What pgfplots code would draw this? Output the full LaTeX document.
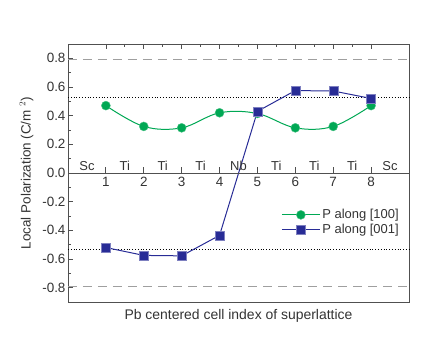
\documentclass[border=0pt]{standalone}
\usepackage{pgfplots}
\pgfplotsset{compat=1.18}
\usepackage{fontspec}
\setmainfont{Liberation Sans}
\definecolor{pgreen}{RGB}{0,168,84}
\definecolor{pblue}{RGB}{40,44,150}
\definecolor{frame}{RGB}{80,80,80}
\begin{document}
\begin{tikzpicture}
\path[use as bounding box] (-68bp,-44bp) rectangle (361bp,302bp);
\begin{axis}[
  at={(0,0)}, anchor=south west,
  scale only axis, width=341bp, height=258bp,
  xmin=0, xmax=9, ymin=-0.9, ymax=0.9,
  axis line style={frame, line width=0.8bp},
  xtick={1,...,8}, xticklabels={}, xtick pos=right,
  minor x tick num=1,
  ytick={-0.8,-0.6,...,0.81}, ytick pos=left, minor y tick num=1,
  tick align=inside,
  major tick length=5bp, minor tick length=3bp,
  tick style={frame, line width=0.7bp},
  /pgf/number format/assume math mode=true,
  /pgf/number format/.cd, fixed, fixed zerofill, precision=1, /pgfplots/.cd,
  yticklabel style={font=\fontsize{13.5}{15}\selectfont, text=black!80, xshift=1bp},
  ylabel={Local Polarization (C/m $^{2}$)},
  ylabel style={font=\fontsize{13.5}{15}\selectfont, text=black!80, yshift=2bp},
  xlabel={Pb centered cell index of superlattice},
  x label style={at={(axis description cs:0.5,0)}, anchor=north, yshift=-4bp, font=\fontsize{14}{16}\selectfont, text=black!80},
  legend style={draw=none, fill=none, at={(0.985,0.375)}, anchor=north east,
    font=\fontsize{13}{15}\selectfont, row sep=0bp, text=black!80},
  legend cell align=left,
  legend image code/.code={
    \draw[#1, mark=none] (0bp,0bp) -- (38bp,0bp);
    \draw[#1, only marks] plot coordinates {(19bp,0bp)};
  },
  clip=false,
]
\addplot[gray!75, line width=1bp, dash pattern=on 9bp off 6bp, forget plot] coordinates {(0,0.79) (9,0.79)};
\addplot[gray!75, line width=1bp, dash pattern=on 9bp off 6bp, forget plot] coordinates {(0,-0.79) (9,-0.79)};
\addplot[black, line width=0.8bp, dotted, forget plot] coordinates {(0,0.53) (9,0.53)};
\addplot[black, line width=0.8bp, dotted, forget plot] coordinates {(0,-0.53) (9,-0.53)};
\addplot[pgreen, line width=1bp, smooth, tension=0.6, mark=*, mark size=4.5bp, mark options={fill=pgreen, draw=pgreen!70!white, line width=0.4bp}]
  coordinates {(1,0.47) (2,0.325) (3,0.315) (4,0.42) (5,0.415) (6,0.315) (7,0.325) (8,0.47)};
\addlegendentry{P along [100]}
\addplot[pblue, line width=1bp, mark=square*, mark size=4.5bp, mark options={fill=pblue, draw=pblue!60!white, line width=0.4bp}]
  coordinates {(1,-0.52) (2,-0.575) (3,-0.578) (4,-0.435) (5,0.43) (6,0.575) (7,0.572) (8,0.52)};
\addlegendentry{P along [001]}
\foreach \xx/\lab in {0.5/Sc,1.5/Ti,2.5/Ti,3.5/Ti,4.5/Nb,5.5/Ti,6.5/Ti,7.5/Ti,8.5/Sc} {
  \edef\tmp{\noexpand\node[anchor=south, inner sep=1.5bp, font=\noexpand\fontsize{13}{15}\noexpand\selectfont, text=black!80] at (axis cs:\xx,0.005) {\lab};}
  \tmp
}
\end{axis}
\begin{axis}[
  at={(0,0)}, anchor=south west,
  scale only axis, width=341bp, height=258bp,
  xmin=0, xmax=9, ymin=-0.9, ymax=0.9,
  axis x line=middle, axis y line=none,
  axis line style={-, frame, line width=0.8bp},
  xtick={1,...,8}, ytick=\empty,
  tick align=inside,
  major tick length=6bp,
  tick style={frame, line width=0.8bp},
  /pgf/number format/assume math mode=true,
  xticklabel style={font=\fontsize{13.5}{15}\selectfont, text=black!80, yshift=-1bp},
]
\addplot[draw=none] coordinates {(0,0)};
\end{axis}
\end{tikzpicture}
\end{document}
